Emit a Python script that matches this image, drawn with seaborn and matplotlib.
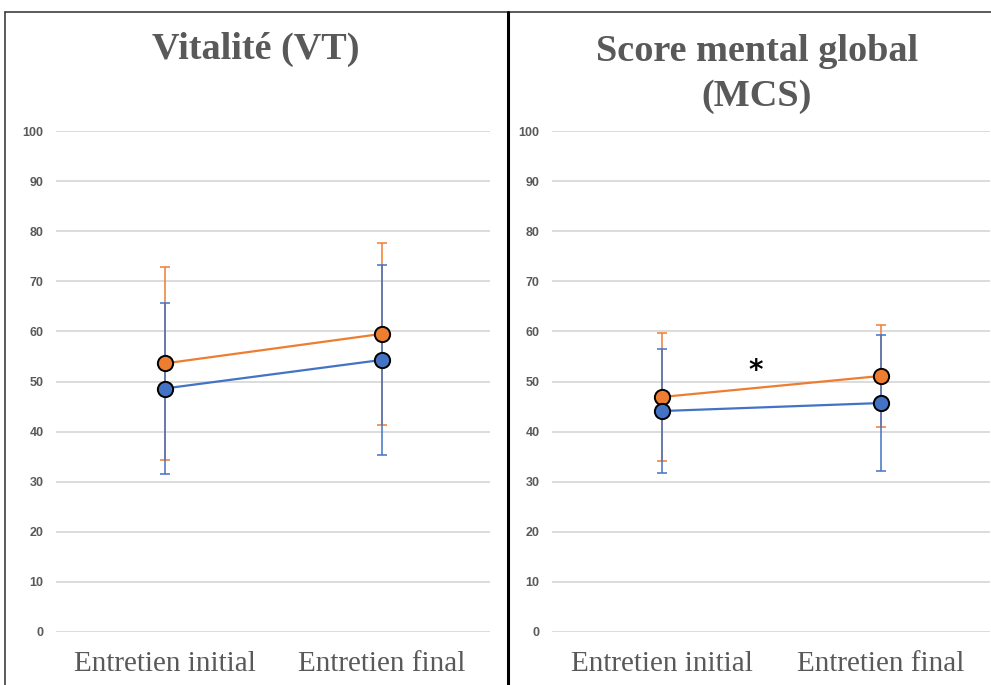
import matplotlib
matplotlib.use("Agg")
import matplotlib.pyplot as plt
from matplotlib.lines import Line2D
import seaborn as sns
import pandas as pd
import numpy as np

# ---- data ----
categories = ["Entretien initial", "Entretien final"]
groups = ["Groupe 2", "Groupe 1"]  # orange drawn first, blue on top

vt_orange = [53.6, 59.5]
vt_orange_sd = [19.2, 18.2]
vt_blue = [48.6, 54.3]
vt_blue_sd = [17.1, 19.0]

mcs_orange = [46.9, 51.1]
mcs_orange_sd = [12.7, 10.1]
mcs_blue = [44.1, 45.7]
mcs_blue_sd = [12.4, 13.5]

titles = ["Vitalité (VT)", "Score mental global\n(MCS)"]
yticks = [0, 10, 20, 30, 40, 50, 60, 70, 80, 90, 100]

ORANGE = "#ED7D31"
BLUE = "#4472C4"
GRAY = "#595959"

sns.set_theme(style="white")
plt.rcParams["font.family"] = ["Liberation Serif", "DejaVu Serif"]

fig = plt.figure(figsize=(9.91, 6.85), dpi=100)
W, H = 991, 685

def make_df(orange, orange_sd, blue, blue_sd):
    rows = []
    for g, vals, sds in [(groups[0], orange, orange_sd), (groups[1], blue, blue_sd)]:
        for i, c in enumerate(categories):
            rows.append({"groupe": g, "x": i, "cat": c, "score": vals[i], "sd": sds[i]})
    return pd.DataFrame(rows)

panels = [
    (make_df(vt_orange, vt_orange_sd, vt_blue, vt_blue_sd), 56, 434),
    (make_df(mcs_orange, mcs_orange_sd, mcs_blue, mcs_blue_sd), 552, 438),
]

y0_px, y100_px = 632, 131
axes = []
for k, (df, left_px, width_px) in enumerate(panels):
    ax = fig.add_axes([left_px / W, (H - y0_px) / H, width_px / W, (y0_px - y100_px) / H])
    axes.append(ax)
    ax.set_ylim(0, 100)
    ax.set_xlim(-0.5, 1.5)
    ax.set_yticks(yticks)
    ax.yaxis.grid(True, color="#D9D9D9", linewidth=1.3)
    ax.set_axisbelow(True)
    for s in ax.spines.values():
        s.set_visible(False)
    palette = {groups[0]: ORANGE, groups[1]: BLUE}
    for g in groups:
        sub = df[df["groupe"] == g]
        ax.errorbar(sub["x"], sub["score"], yerr=sub["sd"], fmt="none",
                    ecolor=palette[g], elinewidth=1.1, capsize=3.5, capthick=1.1, zorder=2)
        sns.lineplot(data=sub, x="x", y="score", ax=ax, color=palette[g],
                     linewidth=1.6, marker="o", markersize=11,
                     markeredgecolor="black", markeredgewidth=1.4,
                     legend=False, zorder=3)
    ax.set_xticks([0, 1])
    ax.set_xticklabels(categories, fontsize=21, color=GRAY)
    ax.tick_params(axis="x", length=0, pad=14)
    ax.tick_params(axis="y", length=0, pad=9)
    for lab in ax.get_yticklabels():
        lab.set_fontsize(9)
        lab.set_fontweight("bold")
        lab.set_color(GRAY)
        lab.set_family(["Liberation Sans", "DejaVu Sans"])
    ax.set_xlabel("")
    ax.set_ylabel("")

axes[1].text(0.43, 52, "*", fontsize=20, fontweight="bold", color="black",
             ha="center", va="center", family="DejaVu Sans")

# titles
fig.text(256 / W, 1 - 49 / H, titles[0], ha="center", va="center",
         fontsize=27.5, fontweight="bold", color=GRAY)
fig.text(757 / W, 1 - 74 / H, titles[1], ha="center", va="center",
         fontsize=27.5, fontweight="bold", color=GRAY, linespacing=1.4)

# frame lines
fig.add_artist(Line2D([5 / W, 1], [1 - 12 / H, 1 - 12 / H], color="#404040", linewidth=1.2))
fig.add_artist(Line2D([5 / W, 5 / W], [0, 1 - 12 / H], color="#404040", linewidth=1.2))
fig.add_artist(Line2D([508 / W, 508 / W], [0, 1 - 12 / H], color="black", linewidth=2.2))

fig.savefig("out.png", dpi=100)
